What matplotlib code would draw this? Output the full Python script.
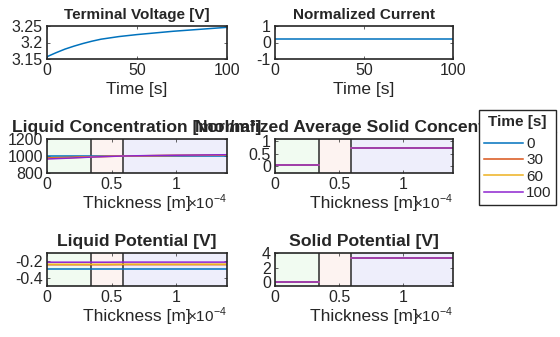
import matplotlib
matplotlib.use("Agg")
import matplotlib.pyplot as plt
from matplotlib.ticker import FuncFormatter, FormatStrFormatter

plt.rcParams["font.family"] = ["Liberation Sans", "DejaVu Sans"]
plt.rcParams["mathtext.fontset"] = "custom"
plt.rcParams["mathtext.rm"] = "Liberation Sans"
plt.rcParams["axes.unicode_minus"] = False

# ---- time history ----
time_s = [0, 5, 10, 15, 20, 25, 30, 40, 50, 60, 70, 80, 90, 100]
terminal_voltage = [3.157, 3.169, 3.180, 3.189, 3.197, 3.204, 3.210,
                    3.218, 3.224, 3.229, 3.234, 3.238, 3.242, 3.246]
normalized_current = [0.2, 0.2, 0.2, 0.2, 0.2, 0.2, 0.2,
                      0.2, 0.2, 0.2, 0.2, 0.2, 0.2, 0.2]

# ---- cell geometry [m] ----
neg_end = 34e-6
sep_end = 59e-6
cell_end = 139e-6

# ---- profiles at snapshot times ----
snapshot_labels = ["0", "30", "60", "100"]
colors = ["#0072BD", "#D95319", "#EDB120", "#8E24D0"]

x_cell = [0, 17e-6, 34e-6, 46.5e-6, 59e-6, 79e-6, 99e-6, 119e-6, 139e-6]
liq_conc_0 = [1000, 1000, 1000, 1000, 1000, 1000, 1000, 1000, 1000]
liq_conc_30 = [978, 984, 992, 996, 1000, 1003, 1006, 1008, 1010]
liq_conc_60 = [970, 978, 989, 995, 1000, 1004, 1008, 1011, 1013]
liq_conc_100 = [965, 975, 987, 994, 1000, 1005, 1009, 1012, 1015]

liq_pot_0 = [-0.295, -0.295, -0.295, -0.295, -0.295, -0.295, -0.295, -0.295, -0.295]
liq_pot_30 = [-0.245, -0.245, -0.245, -0.245, -0.244, -0.244, -0.244, -0.244, -0.244]
liq_pot_60 = [-0.240, -0.240, -0.240, -0.240, -0.239, -0.239, -0.239, -0.239, -0.239]
liq_pot_100 = [-0.216, -0.216, -0.216, -0.216, -0.215, -0.215, -0.215, -0.215, -0.215]

x_neg = [0, 34e-6]
x_pos = [59e-6, 139e-6]
solid_conc_neg = [[0.02, 0.02], [0.02, 0.02], [0.02, 0.02], [0.02, 0.02]]
solid_conc_pos = [[0.73, 0.73], [0.73, 0.73], [0.73, 0.73], [0.73, 0.73]]
solid_pot_neg = [[0.06, 0.06], [0.06, 0.06], [0.06, 0.06], [0.06, 0.06]]
solid_pot_pos = [[3.30, 3.30], [3.30, 3.30], [3.30, 3.30], [3.30, 3.30]]

liq_conc = [liq_conc_0, liq_conc_30, liq_conc_60, liq_conc_100]
liq_pot = [liq_pot_0, liq_pot_30, liq_pot_60, liq_pot_100]

DARK = "#262626"
W, H = 560, 337
fig = plt.figure(figsize=(W / 100, H / 100), dpi=100)


def make_ax(left, top, width, height):
    ax = fig.add_axes([left / W, 1 - (top + height) / H, width / W, height / H])
    for s in ax.spines.values():
        s.set_color(DARK)
        s.set_linewidth(1.2)
    ax.tick_params(direction="in", top=True, right=True, length=2.5, width=0.5,
                   color=DARK, labelcolor=DARK, labelsize=11.5, pad=3)
    ax.yaxis.set_major_formatter(FormatStrFormatter("%g"))
    return ax


def style_title(ax, text, size=12.6):
    ax.set_title(text, fontsize=size, fontweight="bold", color=DARK, pad=5)


def thickness_axis(ax):
    ax.axvspan(0, neg_end, color="#f1fbf1", zorder=0, lw=0)
    ax.axvspan(neg_end, sep_end, color="#fdf3f1", zorder=0, lw=0)
    ax.axvspan(sep_end, cell_end, color="#eeeefb", zorder=0, lw=0)
    ax.axvline(neg_end, color="#3a3a3a", lw=1.2, zorder=1)
    ax.axvline(sep_end, color="#3a3a3a", lw=1.2, zorder=1)
    ax.set_xlim(0, cell_end)
    ax.set_xticks([0, 0.5e-4, 1e-4])
    ax.xaxis.set_major_formatter(FuncFormatter(lambda v, p: f"{v * 1e4:g}"))
    ax.set_xlabel("Thickness [m]", fontsize=12.5, color=DARK, labelpad=3)
    ax.annotate(r"$\times10^{-4}$", xy=(1, 0), xycoords="axes fraction",
                xytext=(0, -26), textcoords="offset points",
                ha="right", va="baseline", fontsize=11, color=DARK)


# Terminal voltage
ax1 = make_ax(47, 26, 180, 33)
ax1.plot(time_s, terminal_voltage, color=colors[0], lw=1.1)
ax1.set_xlim(0, 100)
ax1.set_ylim(3.15, 3.25)
ax1.set_xticks([0, 50, 100])
ax1.set_yticks([3.15, 3.2, 3.25])
ax1.set_xlabel("Time [s]", fontsize=12.5, color=DARK, labelpad=3)
style_title(ax1, "Terminal Voltage [V]", 11)

# Normalized current
ax2 = make_ax(275, 26, 178, 33)
ax2.plot(time_s, normalized_current, color=colors[0], lw=1.1)
ax2.set_xlim(0, 100)
ax2.set_ylim(-1, 1)
ax2.set_xticks([0, 50, 100])
ax2.set_yticks([-1, 0, 1])
ax2.set_xlabel("Time [s]", fontsize=12.5, color=DARK, labelpad=3)
style_title(ax2, "Normalized Current", 11)

# Liquid concentration
ax3 = make_ax(47, 139, 180, 34)
thickness_axis(ax3)
for vals, c, lab in zip(liq_conc, colors, snapshot_labels):
    ax3.plot(x_cell, vals, color=c, lw=1.1, label=lab, zorder=2)
ax3.set_ylim(800, 1200)
ax3.set_yticks([800, 1000, 1200])
style_title(ax3, "Liquid Concentration [mol/m³]")

# Solid concentration
ax4 = make_ax(275, 139, 178, 34)
thickness_axis(ax4)
for neg, pos, c in zip(solid_conc_neg, solid_conc_pos, colors):
    ax4.plot(x_neg, neg, color=c, lw=1.1, zorder=2)
    ax4.plot(x_pos, pos, color=c, lw=1.1, zorder=2)
ax4.set_ylim(-0.3, 1.1)
ax4.set_yticks([0, 0.5, 1])
style_title(ax4, "Normalized Average Solid Concentration")

# Liquid potential
ax5 = make_ax(47, 253, 180, 33)
thickness_axis(ax5)
for vals, c in zip(liq_pot, colors):
    ax5.plot(x_cell, vals, color=c, lw=1.1, zorder=2)
ax5.set_ylim(-0.49, -0.11)
ax5.set_yticks([-0.4, -0.2])
style_title(ax5, "Liquid Potential [V]")

# Solid potential
ax6 = make_ax(275, 253, 178, 33)
thickness_axis(ax6)
for neg, pos, c in zip(solid_pot_neg, solid_pot_pos, colors):
    ax6.plot(x_neg, neg, color=c, lw=1.1, zorder=2)
    ax6.plot(x_pos, pos, color=c, lw=1.1, zorder=2)
ax6.set_ylim(-0.5, 4)
ax6.set_yticks([0, 2, 4])
style_title(ax6, "Solid Potential [V]")

# Legend
handles, labels = ax3.get_legend_handles_labels()
leg = fig.legend(handles, labels, title="Time [s]", loc="upper left",
                 bbox_to_anchor=(479 / W, 1 - 110 / H), frameon=True,
                 fancybox=False, edgecolor=DARK, framealpha=1, fontsize=11,
                 title_fontproperties={"weight": "bold", "size": 11},
                 handlelength=2.6, handletextpad=0.2, labelspacing=0.16,
                 borderpad=0.3, borderaxespad=0)
leg._legend_box.sep = 6
leg.get_frame().set_linewidth(1.0)
for t in leg.get_texts():
    t.set_color(DARK)
leg.get_title().set_color(DARK)

fig.canvas.draw()
renderer = fig.canvas.get_renderer()
lb = leg.get_window_extent(renderer)
tb = leg.get_title().get_window_extent(renderer)
y_sep = tb.y0 - 3
fig.add_artist(plt.Line2D([lb.x0 / W, lb.x1 / W], [y_sep / H, y_sep / H],
                          color=DARK, lw=0.8, transform=fig.transFigure))

fig.savefig("out.png", dpi=100)
